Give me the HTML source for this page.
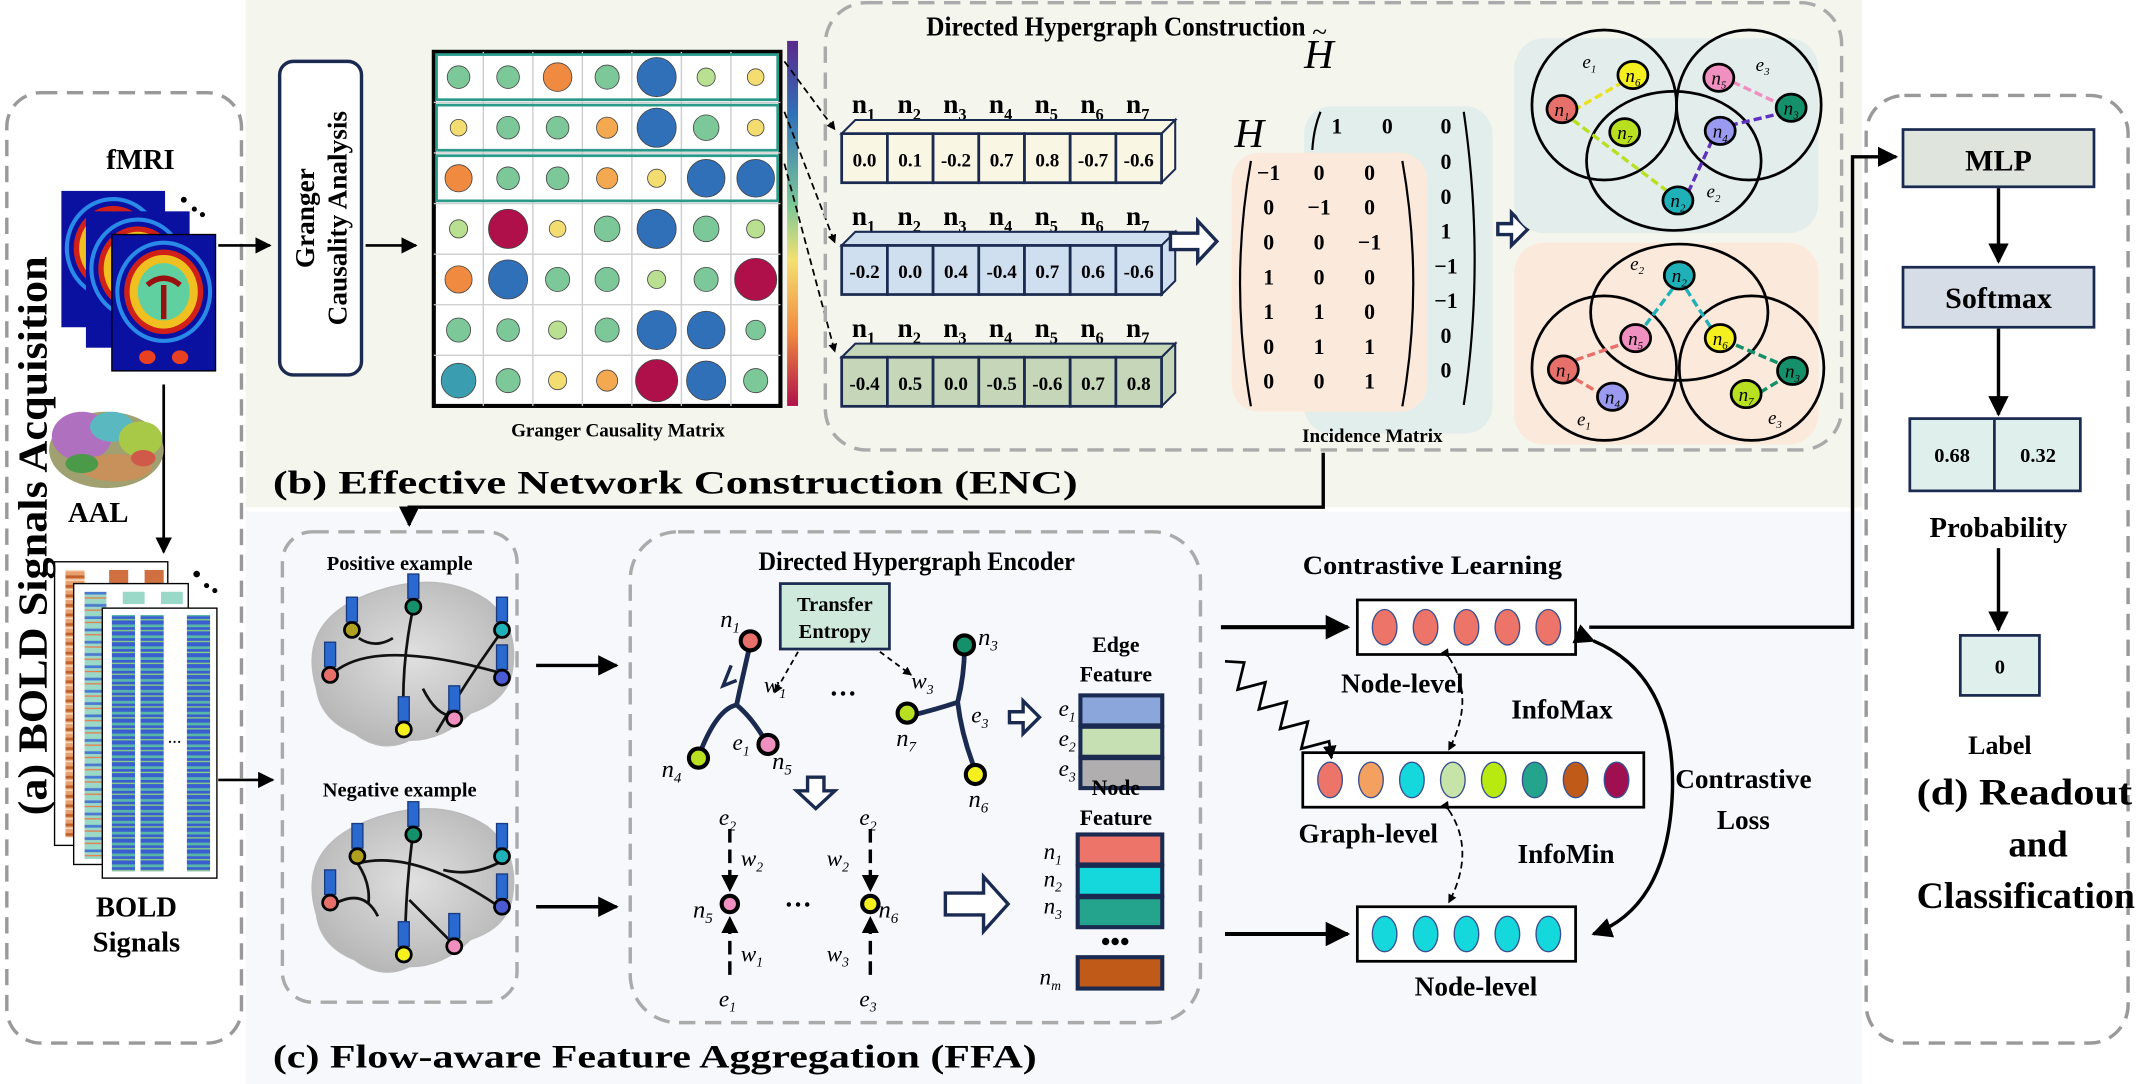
<!DOCTYPE html>
<html><head><meta charset="utf-8"><style>
html,body{margin:0;padding:0;background:#fff;}
#wrap{width:2139px;height:1084px;overflow:hidden;}
svg{display:block;}
svg text{font-family:"Liberation Serif","Times New Roman",serif;font-weight:bold;}
</style></head><body>
<div id="wrap">
<svg id="svg" width="2139" height="1084" viewBox="0 0 1568 795" preserveAspectRatio="none" xmlns="http://www.w3.org/2000/svg" font-family="Liberation Serif, Times New Roman, serif" font-weight="bold">
<defs>
<marker id="ah" viewBox="0 0 10 10" refX="9" refY="5" markerWidth="6" markerHeight="6" orient="auto"><path d="M0,0L10,5L0,10z" fill="#000"/></marker>
<marker id="ahs" viewBox="0 0 10 10" refX="9" refY="5" markerWidth="5" markerHeight="5" orient="auto"><path d="M0,0L10,5L0,10z" fill="#000"/></marker>
<pattern id="bold" width="14" height="8" patternUnits="userSpaceOnUse"><rect width="14" height="8" fill="#3a5ed0"/><rect y="2" width="14" height="2" fill="#58b8a8"/><rect y="6" width="14" height="1" fill="#8ad080"/></pattern>
<pattern id="boldc" width="14" height="9" patternUnits="userSpaceOnUse"><rect width="14" height="9" fill="#9ad8c8"/><rect y="2" width="14" height="2" fill="#4a7ad0"/><rect y="6" width="14" height="1" fill="#e08050"/></pattern>
<pattern id="bold2" width="12" height="7" patternUnits="userSpaceOnUse"><rect width="12" height="7" fill="#e8a070"/><rect y="2" width="12" height="2" fill="#c0602a"/><rect y="5" width="12" height="1" fill="#fbe0c8"/></pattern>
<linearGradient id="cbar" x1="0" y1="0" x2="0" y2="1"><stop offset="0" stop-color="#5a2a8a"/><stop offset="0.2" stop-color="#3070b8"/><stop offset="0.45" stop-color="#7cc898"/><stop offset="0.6" stop-color="#f4e070"/><stop offset="0.8" stop-color="#f08a40"/><stop offset="1" stop-color="#b0104a"/></linearGradient>
<radialGradient id="brg" cx="0.5" cy="0.45" r="0.6"><stop offset="0" stop-color="#e0e0e0"/><stop offset="1" stop-color="#b4b4b4"/></radialGradient>
</defs>

<rect x="180" y="0" width="1185" height="372" fill="#f4f5ec"/>
<rect x="180" y="375" width="1185" height="420" fill="#f7f8fc"/>

<!-- (a) -->
<g>
<rect x="5" y="68" width="172" height="697" rx="25" fill="none" stroke="#999" stroke-width="2.5" stroke-dasharray="12,7"/>
<text x="103" y="124" text-anchor="middle" font-size="21">fMRI</text>
<g id="fmri"></g>
<line x1="120" y1="282" x2="120" y2="405" stroke="#000" stroke-width="2" marker-end="url(#ah)"/>
<g>
<ellipse cx="78" cy="330" rx="42" ry="28" fill="#a0a070"/>
<ellipse cx="60" cy="320" rx="22" ry="18" fill="#b070c0"/><ellipse cx="82" cy="313" rx="16" ry="11" fill="#5ab8c0"/><ellipse cx="103" cy="322" rx="16" ry="13" fill="#a8c848"/><ellipse cx="85" cy="343" rx="26" ry="10" fill="#c8905a"/><ellipse cx="60" cy="340" rx="12" ry="7" fill="#4a9a4a"/><ellipse cx="105" cy="336" rx="9" ry="6" fill="#d05a4a"/>
</g>
<text x="72" y="383" text-anchor="middle" font-size="21">AAL</text>
<g>
<rect x="40" y="412" width="83" height="208" fill="#fff" stroke="#000"/>
<rect x="48" y="418" width="14" height="196" fill="url(#bold2)"/><rect x="80" y="418" width="14" height="10" fill="#d07040"/><rect x="106" y="418" width="14" height="10" fill="#d07040"/>
<rect x="54" y="428" width="84" height="206" fill="#fff" stroke="#000"/>
<rect x="62" y="434" width="16" height="196" fill="url(#boldc)"/><rect x="90" y="434" width="16" height="9" fill="#9ad8c8"/><rect x="118" y="434" width="16" height="9" fill="#9ad8c8"/>
<rect x="75" y="446" width="84" height="198" fill="#fff" stroke="#000"/>
<rect x="82" y="451" width="17" height="188" fill="url(#bold)"/><rect x="103" y="451" width="17" height="188" fill="url(#bold)"/><rect x="137" y="451" width="17" height="188" fill="url(#bold)"/>
<text x="128" y="545" font-size="10" text-anchor="middle">…</text>
<text x="141" y="427" font-size="18">•</text><text x="149" y="434" font-size="14">•</text><text x="155" y="438" font-size="14">•</text>
</g>
<text x="100" y="672" text-anchor="middle" font-size="21">BOLD</text>
<text x="100" y="698" text-anchor="middle" font-size="21">Signals</text>
<text transform="translate(34,393) rotate(-90)" text-anchor="middle" font-size="30" textLength="410" lengthAdjust="spacingAndGlyphs">(a) BOLD Signals Acquisition</text>
</g>
<line x1="160" y1="180" x2="198" y2="180" stroke="#000" stroke-width="2" marker-end="url(#ah)"/>
<line x1="160" y1="572" x2="200" y2="572" stroke="#000" stroke-width="2" marker-end="url(#ah)"/>

<!-- (b) -->
<rect x="205" y="45" width="60" height="230" rx="10" fill="#fff" stroke="#1a2a50" stroke-width="2.5"/>
<text transform="translate(230,160) rotate(-90)" text-anchor="middle" font-size="20">Granger</text>
<text transform="translate(254,160) rotate(-90)" text-anchor="middle" font-size="20">Causality Analysis</text>
<line x1="268" y1="180" x2="305" y2="180" stroke="#000" stroke-width="2" marker-end="url(#ah)"/>

<g id="matrix"></g>
<text x="453" y="320" text-anchor="middle" font-size="14">Granger Causality  Matrix</text>

<rect x="605" y="2" width="745" height="328" rx="30" fill="none" stroke="#aaa" stroke-width="2.5" stroke-dasharray="12,7"/>
<text x="818" y="26" text-anchor="middle" font-size="20" textLength="278" lengthAdjust="spacingAndGlyphs">Directed Hypergraph Construction</text>
<g id="cubes"></g>
<path d="M858,171 h20 v-9 l14,15 l-14,15 v-9 h-20z" fill="#fff" stroke="#1a2a50" stroke-width="2.5"/>

<g>
<rect x="956" y="78" width="138" height="240" rx="20" fill="#e2eeec"/>
<rect x="903" y="112" width="143" height="190" rx="20" fill="#fbe9dc"/>
<text x="956" y="50" font-size="30" font-style="italic" style="font-weight:normal">H</text>
<text x="962" y="30" font-size="20" style="font-weight:normal">~</text>
<text x="905" y="108" font-size="30" font-style="italic" style="font-weight:normal">H</text>
<g id="incid" font-size="16" text-anchor="middle" style="font-weight:normal"></g>
</g>
<text x="1006" y="324" text-anchor="middle" font-size="14">Incidence Matrix</text>
<path d="M1098,164 h10 v-8 l12,12 l-12,12 v-8 h-10z" fill="#fff" stroke="#1a2a50" stroke-width="2.5"/>

<g id="hg">
<rect x="1110" y="28" width="223" height="143" rx="22" fill="#e3eeec"/>
<rect x="1110" y="178" width="223" height="148" rx="22" fill="#fbe9dc"/>
</g>
<text x="200" y="362" font-size="24" textLength="590" lengthAdjust="spacingAndGlyphs">(b) Effective Network Construction (ENC)</text>
<path d="M970,332 V372 H300 V385" fill="none" stroke="#000" stroke-width="2.5" marker-end="url(#ah)"/>

<!-- (c) -->
<rect x="207" y="390" width="172" height="345" rx="22" fill="none" stroke="#aaa" stroke-width="2.5" stroke-dasharray="12,7"/>
<text x="293" y="418" text-anchor="middle" font-size="15">Positive example</text>
<text x="293" y="584" text-anchor="middle" font-size="15">Negative example</text>
<g id="brains"></g>
<line x1="393" y1="488" x2="452" y2="488" stroke="#000" stroke-width="2.5" marker-end="url(#ah)"/>
<line x1="393" y1="665" x2="452" y2="665" stroke="#000" stroke-width="2.5" marker-end="url(#ah)"/>

<rect x="462" y="390" width="418" height="360" rx="35" fill="none" stroke="#aaa" stroke-width="2.5" stroke-dasharray="12,7"/>
<text x="672" y="418" text-anchor="middle" font-size="19" textLength="232" lengthAdjust="spacingAndGlyphs">Directed Hypergraph Encoder</text>
<g id="enc"></g>

<text x="1050" y="421" text-anchor="middle" font-size="19" textLength="190" lengthAdjust="spacingAndGlyphs">Contrastive Learning</text>
<g id="cl"></g>
<text x="200" y="783" font-size="24" textLength="560" lengthAdjust="spacingAndGlyphs">(c) Flow-aware Feature Aggregation (FFA)</text>

<!-- (d) -->
<rect x="1368" y="70" width="192" height="695" rx="28" fill="none" stroke="#999" stroke-width="2.5" stroke-dasharray="12,7"/>
<rect x="1395" y="95" width="140" height="42" fill="#dfe4dc" stroke="#1a2a50" stroke-width="2"/>
<text x="1465" y="125" text-anchor="middle" font-size="22">MLP</text>
<line x1="1465" y1="138" x2="1465" y2="192" stroke="#000" stroke-width="2.5" marker-end="url(#ah)"/>
<rect x="1395" y="196" width="140" height="44" fill="#d6dde6" stroke="#1a2a50" stroke-width="2"/>
<text x="1465" y="226" text-anchor="middle" font-size="22">Softmax</text>
<line x1="1465" y1="241" x2="1465" y2="304" stroke="#000" stroke-width="2.5" marker-end="url(#ah)"/>
<rect x="1400" y="307" width="125" height="53" fill="#dff0ec" stroke="#1a2a50" stroke-width="2"/>
<line x1="1462" y1="307" x2="1462" y2="360" stroke="#1a2a50" stroke-width="2"/>
<text x="1431" y="339" text-anchor="middle" font-size="15">0.68</text>
<text x="1494" y="339" text-anchor="middle" font-size="15">0.32</text>
<text x="1465" y="394" text-anchor="middle" font-size="21">Probability</text>
<line x1="1465" y1="402" x2="1465" y2="462" stroke="#000" stroke-width="2.5" marker-end="url(#ah)"/>
<rect x="1437" y="466" width="58" height="44" fill="#dff0ec" stroke="#1a2a50" stroke-width="2"/>
<text x="1466" y="494" text-anchor="middle" font-size="15">0</text>
<text x="1466" y="553" text-anchor="middle" font-size="19">Label</text>
<text x="1484" y="590" text-anchor="middle" font-size="27" textLength="158" lengthAdjust="spacingAndGlyphs">(d) Readout</text>
<text x="1494" y="628" text-anchor="middle" font-size="27">and</text>
<text x="1485" y="666" text-anchor="middle" font-size="27" textLength="160" lengthAdjust="spacingAndGlyphs">Classification</text>
<path d="M1165,460 H1358 V115 H1390" fill="none" stroke="#000" stroke-width="2.5" marker-end="url(#ah)"/>
</svg>
</div>
<script>
const NS="http://www.w3.org/2000/svg";
function mk(tag,attrs,parent,txt){const e=document.createElementNS(NS,tag);for(const k in attrs)e.setAttribute(k,attrs[k]);if(txt!==undefined)e.textContent=txt;parent.appendChild(e);return e;}
const F=document.getElementById('fmri');
[[45,140],[63,155],[82,172]].forEach(([x,y],k)=>{
 mk('rect',{x:x,y:y,width:76,height:100,fill:'#0a10a0',stroke:k==2?'#000':'none'},F);
 const cx=x+38,cy=y+42;
 mk('ellipse',{cx:cx,cy:cy,rx:34,ry:36,fill:'none',stroke:'#2a8ae8','stroke-width':3},F);
 mk('ellipse',{cx:cx,cy:cy,rx:29,ry:31,fill:'#d02018'},F);
 mk('ellipse',{cx:cx,cy:cy,rx:25,ry:27,fill:'#f0c020'},F);
 mk('ellipse',{cx:cx,cy:cy,rx:19,ry:21,fill:'#60d0a0'},F);
 if(k==2){mk('path',{d:`M${cx-12},${cy-5} q12,-10 24,0 M${cx},${cy-5} v25`,fill:'none',stroke:'#9a1010','stroke-width':4},F);
  mk('ellipse',{cx:cx-12,cy:y+90,rx:6,ry:5,fill:'#e84020'},F);mk('ellipse',{cx:cx+12,cy:y+90,rx:6,ry:5,fill:'#e84020'},F);}
});
mk('text',{x:132,y:152,'font-size':16},F,'•');mk('text',{x:140,y:158,'font-size':14},F,'•');mk('text',{x:146,y:162,'font-size':14},F,'•');
// Granger matrix values (-1..1): sign -> colour, magnitude -> size
const gcRow1=[0.3,0.3,-0.5,0.35,0.85,0.15,-0.1];
const gcRow2=[-0.1,0.3,0.3,-0.25,0.85,0.4,-0.1];
const gcRow3=[-0.45,0.3,0.3,-0.25,-0.15,0.8,0.8];
const gcRow4=[0.15,-0.85,-0.1,0.4,0.85,0.4,0.15];
const gcRow5=[-0.45,0.85,0.35,0.35,0.15,0.35,-0.95];
const gcRow6=[0.35,0.3,0.15,0.35,0.85,0.8,0.2];
const gcRow7=[0.7,0.35,-0.15,-0.25,-0.95,0.85,0.35];
const gcRows=[gcRow1,gcRow2,gcRow3,gcRow4,gcRow5,gcRow6,gcRow7];
const M=document.getElementById('matrix');
const mx0=318,my0=38,cw=36.3,ch=37.1;
function gcColor(v){if(v<=-0.8)return'#b0104a';if(v<=-0.4)return'#f08a40';if(v<=-0.2)return'#f4a850';if(v<0)return'#f4dd70';if(v<0.2)return'#b8e090';if(v<0.5)return'#7cc898';if(v<0.75)return'#3a9eb0';return'#3070b8';}
function colX(i){return mx0+cw*(i+0.5);} function rowY(j){return my0+ch*(j+0.5);}
mk('rect',{x:mx0,y:my0,width:cw*7,height:ch*7,fill:'#fff',stroke:'#000','stroke-width':3},M);
for(let i=1;i<7;i++){mk('line',{x1:mx0+cw*i,y1:my0,x2:mx0+cw*i,y2:my0+ch*7,stroke:'#ccc'},M);mk('line',{x1:mx0,y1:my0+ch*i,x2:mx0+cw*7,y2:my0+ch*i,stroke:'#ccc'},M);}
gcRows.forEach((row,j)=>row.forEach((v,i)=>{const c=mk('circle',{cx:colX(i),cy:rowY(j),r:5+11*Math.abs(v),fill:gcColor(v),stroke:'#444','stroke-width':0.6},M);

}));
mk('rect',{x:577,y:my0-8,width:8,height:ch*7+8,fill:'url(#cbar)'},M);
[0,1,2].forEach(j=>mk('rect',{x:mx0+2,y:my0+ch*j+2,width:cw*7-4,height:ch-4,fill:'none',stroke:'#2a9a8a','stroke-width':2},M));
[[575,45,612,95],[575,82,612,178],[575,120,612,258]].forEach(p=>mk('line',{x1:p[0],y1:p[1],x2:p[2],y2:p[3],stroke:'#000','stroke-width':1.3,'stroke-dasharray':'5,3','marker-end':'url(#ahs)'},M));
// cube rows
const cubeRow1=['0.0','0.1','-0.2','0.7','0.8','-0.7','-0.6'];
const cubeRow2=['-0.2','0.0','0.4','-0.4','0.7','0.6','-0.6'];
const cubeRow3=['-0.4','0.5','0.0','-0.5','-0.6','0.7','0.8'];
const cubeRows=[cubeRow1,cubeRow2,cubeRow3];
const cubeFill=['#faf6e4','#cfdff0','#c6d6b8'];
const C=document.getElementById('cubes');
cubeRows.forEach((row,r)=>{const y=98+r*82,x0=617,w=33.5;
 for(let i=0;i<7;i++){const t=mk('text',{x:x0+14+i*w+2,y:y-15,'text-anchor':'middle','font-size':20},C);t.innerHTML='n<tspan font-size="12" dy="5">'+(i+1)+'</tspan>';}
 mk('path',{d:`M${x0},${y} l10,-10 h${7*w} l-10,10z`,fill:cubeFill[r],stroke:'#1a2a50','stroke-width':1.5},C);
 mk('path',{d:`M${x0+7*w},${y} l10,-10 v36 l-10,10z`,fill:cubeFill[r],stroke:'#1a2a50','stroke-width':1.5},C);
 row.forEach((v,i)=>{mk('rect',{x:x0+i*w,y:y,width:w,height:36,fill:cubeFill[r],stroke:'#1a2a50','stroke-width':2},C);
  const t=mk('text',{x:x0+i*w+w/2,y:y+24,'text-anchor':'middle','font-size':14},C,v);
  
  });
});
// incidence
const I=document.getElementById('incid');
const hRows=[['−1','0','0'],['0','−1','0'],['0','0','−1'],['1','0','0'],['1','1','0'],['0','1','1'],['0','0','1']];
hRows.forEach((r,j)=>r.forEach((v,i)=>mk('text',{x:930+i*37,y:132+j*25.5},I,v)));
const htCol=['0','0','1','−1','−1','0','0'];
mk('text',{x:980,y:98},I,'1');mk('text',{x:1017,y:98},I,'0');
mk('text',{x:1060,y:98},I,'0');
htCol.forEach((v,j)=>mk('text',{x:1060,y:124+j*25.5},I,v));
mk('path',{d:'M917,118 q-16,90 0,180',fill:'none',stroke:'#000','stroke-width':1.6},I);
mk('path',{d:'M1028,118 q16,90 0,180',fill:'none',stroke:'#000','stroke-width':1.6},I);
mk('path',{d:'M968,82 q-5,12 -6,28',fill:'none',stroke:'#000','stroke-width':1.6},I);
mk('path',{d:'M1073,82 q16,110 0,215',fill:'none',stroke:'#000','stroke-width':1.6},I);
// hypergraph circles
const H=document.getElementById('hg');
const nodeCol={1:'#e8706a',2:'#20b0b8',3:'#14906a',4:'#9a9af0',5:'#f090c0',6:'#f4f020',7:'#b8e020'};
function node(x,y,n){mk('ellipse',{cx:x,cy:y,rx:11,ry:10,fill:nodeCol[n],stroke:'#000','stroke-width':2},H);const t=mk('text',{x:x,y:y+5,'text-anchor':'middle','font-size':14,'font-style':'italic',style:'font-weight:normal'},H);t.innerHTML='n<tspan font-size="8" dy="3">'+n+'</tspan>';}
function lab(x,y,s){const t=mk('text',{x:x,y:y,'font-size':14,'font-style':'italic',style:'font-weight:normal'},H);t.innerHTML='e<tspan font-size="8" dy="3">'+s+'</tspan>';}
function da(x1,y1,x2,y2,c){mk('line',{x1,y1,x2,y2,stroke:c,'stroke-width':2.5,'stroke-dasharray':'6,3'},H);}
[[1176,77,53,55],[1282,77,53,55],[1227,118,64,51]].forEach(c=>mk('ellipse',{cx:c[0],cy:c[1],rx:c[2],ry:c[3],fill:'none',stroke:'#000','stroke-width':2},H));
da(1190,60,1155,80,'#e8e020');da(1153,88,1222,140,'#b8e020');da(1270,60,1302,75,'#f090c0');da(1268,92,1302,84,'#6030c0');da(1255,103,1238,140,'#6030c0');
node(1145,80,1);node(1197,55,6);node(1191,97,7);node(1313,79,3);node(1260,57,5);node(1261,96,4);node(1230,147,2);
lab(1160,50,1);lab(1287,52,3);lab(1251,145,2);
[[1231,229,65,50],[1176,270,53,53],[1284,270,53,53]].forEach(c=>mk('ellipse',{cx:c[0],cy:c[1],rx:c[2],ry:c[3],fill:'none',stroke:'#000','stroke-width':2},H));
da(1226,212,1205,240,'#20b0b8');da(1236,212,1254,240,'#20b0b8');da(1155,264,1190,252,'#e8706a');da(1155,278,1172,288,'#e8706a');da(1303,266,1270,252,'#14906a');da(1303,280,1290,288,'#14906a');
node(1231,202,2);node(1199,248,5);node(1261,248,6);node(1146,271,1);node(1182,291,4);node(1314,272,3);node(1280,289,7);
lab(1195,198,2);lab(1156,312,1);lab(1296,311,3);
// brains
const B=document.getElementById('brains');
function brain(cy,pts,edges){const g=mk('g',{},B);
 mk('path',{d:`M232,${cy+15} q-15,-50 40,-70 q50,-18 85,5 q25,20 18,55 q-5,20 -30,28 q-20,20 -45,20 q-20,10 -40,-5 q-25,-10 -28,-33z`,fill:'url(#brg)',stroke:'#bbb'},g);
 edges.forEach(d=>mk('path',{d:d,fill:'none',stroke:'#111','stroke-width':2},g));
 pts.forEach(p=>{mk('rect',{x:p[0]-4,y:p[1]-24,width:8,height:18,fill:'#2a6ad0',stroke:'#1a3a80'},g);mk('circle',{cx:p[0],cy:p[1],r:5.5,fill:p[2],stroke:'#000','stroke-width':2},g);});}
brain(490,[[258,462,'#b0a020'],[303,445,'#14906a'],[368,462,'#20b0b8'],[242,495,'#e8706a'],[368,497,'#4a5ad0'],[296,535,'#f4f020'],[333,527,'#f090c0']],
 ['M263,468 q12,8 25,0','M302,450 q-8,40 -6,80','M365,467 q-25,35 -45,70','M245,493 q30,-25 120,0','M310,505 q10,20 22,20']);
brain(656,[[262,628,'#b0a020'],[303,612,'#14906a'],[368,628,'#20b0b8'],[242,662,'#e8706a'],[368,665,'#4a5ad0'],[296,700,'#f4f020'],[333,694,'#f090c0']],
 ['M263,633 q40,-10 100,30','M302,617 q-5,40 -5,78','M365,633 q-20,10 -40,5','M247,662 q20,-10 30,10','M262,633 q10,15 8,30','M300,660 q20,20 30,30']);
// encoder
const E=document.getElementById('enc');
function en(x,y,c,n,dx,dy){mk('circle',{cx:x,cy:y,r:7,fill:c,stroke:'#000','stroke-width':3},E);const t=mk('text',{x:x+dx,y:y+dy,'font-size':18,'font-style':'italic',style:'font-weight:normal'},E);t.innerHTML='n<tspan font-size="11" dy="4">'+n+'</tspan>';}
function it(x,y,b,s){const t=mk('text',{x,y,'font-size':17,'font-style':'italic',style:'font-weight:normal'},E);t.innerHTML=b+'<tspan font-size="10" dy="4">'+s+'</tspan>';}
mk('path',{d:'M550,472 q-8,35 -10,45 q-15,3 -28,38 M540,517 q12,10 22,28',fill:'none',stroke:'#1a2a50','stroke-width':3.5},E);
mk('path',{d:'M536,488 l-6,15 l10,-4',fill:'none',stroke:'#1a2a50','stroke-width':2.5},E);
mk('path',{d:'M707,475 q0,20 -5,40 q-15,5 -35,10 M702,515 q3,25 13,50',fill:'none',stroke:'#1a2a50','stroke-width':3.5},E);
en(550,470,'#e8706a',1,-22,-10);en(512,556,'#b8e020',4,-27,14);en(563,546,'#f090c0',5,3,18);
en(707,473,'#14906a',3,10,0);en(665,523,'#b8e020',7,-8,24);en(715,568,'#f4f020',6,-5,24);
it(560,508,'w',1);it(537,550,'e',1);it(668,505,'w',3);it(712,530,'e',3);
mk('text',{x:608,y:510,'font-size':20},E,'…');
mk('rect',{x:572,y:428,width:80,height:48,fill:'#cfeadc',stroke:'#1a2a50','stroke-width':2},E);
mk('text',{x:612,y:448,'text-anchor':'middle','font-size':15},E,'Transfer');
mk('text',{x:612,y:468,'text-anchor':'middle','font-size':15},E,'Entropy');
mk('line',{x1:585,y1:478,x2:568,y2:508,stroke:'#000','stroke-width':1.3,'stroke-dasharray':'4,3','marker-end':'url(#ahs)'},E);
mk('line',{x1:645,y1:478,x2:668,y2:495,stroke:'#000','stroke-width':1.3,'stroke-dasharray':'4,3','marker-end':'url(#ahs)'},E);
mk('path',{d:'M740,522 h10 v-8 l12,12 l-12,12 v-8 h-10z',fill:'#fff',stroke:'#1a2a50','stroke-width':2.5},E);
mk('path',{d:'M592,570 h12 v10 h8 l-14,13 l-14,-13 h8z',fill:'#fff',stroke:'#1a2a50','stroke-width':2.5},E);
[[535,663,'#f090c0',5],[638,663,'#f4f020',6]].forEach(([x,y,c,n],k)=>{
 mk('line',{x1:x,y1:y-55,x2:x,y2:y-10,stroke:'#000','stroke-width':2.5,'stroke-dasharray':'10,5','marker-end':'url(#ahs)'},E);
 mk('line',{x1:x,y1:y+52,x2:x,y2:y+10,stroke:'#000','stroke-width':2.5,'stroke-dasharray':'10,5','marker-end':'url(#ahs)'},E);
 mk('circle',{cx:x,cy:y,r:6,fill:c,stroke:'#000','stroke-width':3},E);
 const t=mk('text',{x:k?x+6:x-27,y:y+10,'font-size':18,'font-style':'italic',style:'font-weight:normal'},E);t.innerHTML='n<tspan font-size="11" dy="4">'+n+'</tspan>';
 it(x-8,y-58,'e',2);it(x+(k?-32:8),y-28,'w',2);it(x+(k?-32:8),y+42,'w',k?3:1);it(x-8,y+75,'e',k?3:1);
});
mk('text',{x:575,y:665,'font-size':20},E,'…');
mk('path',{d:'M693,655 h28 v-12 l18,20 l-18,20 v-12 h-28z',fill:'#fff',stroke:'#1a2a50','stroke-width':2.5},E);
mk('text',{x:818,y:478,'text-anchor':'middle','font-size':16},E,'Edge');
mk('text',{x:818,y:500,'text-anchor':'middle','font-size':16},E,'Feature');
['#8aa6da','#c6e0b4','#b0aeae'].forEach((c,k)=>{mk('rect',{x:792,y:510+k*23,width:60,height:22,fill:c,stroke:'#1a2a50','stroke-width':3},E);it(776,525+k*22,'e',k+1);});
mk('text',{x:818,y:583,'text-anchor':'middle','font-size':16},E,'Node');
mk('text',{x:818,y:605,'text-anchor':'middle','font-size':16},E,'Feature');
['#ec7468','#14d8dc','#24a48c'].forEach((c,k)=>{mk('rect',{x:790,y:612+k*23,width:62,height:22,fill:c,stroke:'#1a2a50','stroke-width':3},E);it(765,630+k*20,'n',k+1);});
mk('text',{x:807,y:697,'font-size':20},E,'•••');
mk('rect',{x:790,y:702,width:62,height:23,fill:'#c05a18',stroke:'#1a2a50','stroke-width':3},E);it(762,722,'n','m');
// contrastive
const L=document.getElementById('cl');
const nodeTopCols=['#ec7468','#ec7468','#ec7468','#ec7468','#ec7468'];
const graphCols=['#ec7468','#f4a060','#14d8dc','#c6e4a8','#b8ea10','#24a48c','#c05a18','#a01050'];
const nodeBotCols=['#14d8dc','#14d8dc','#14d8dc','#14d8dc','#14d8dc'];
function row(x,y,cols,name){const g=mk('g',{},L);
 mk('rect',{x:x,y:y,width:cols.length*30+10,height:40,fill:'#fff',stroke:'#000','stroke-width':2},g);
 cols.forEach((c,k)=>mk('ellipse',{cx:x+20+k*30,cy:y+20,rx:9,ry:13,fill:c,stroke:'#3a5090','stroke-width':1},g));}
row(995,440,nodeTopCols,'node-level-top-row');row(955,552,graphCols,'graph-level-row');row(995,665,nodeBotCols,'node-level-bottom-row');
mk('line',{x1:895,y1:460,x2:988,y2:460,stroke:'#000','stroke-width':3,'marker-end':'url(#ah)'},L);
mk('line',{x1:898,y1:685,x2:988,y2:685,stroke:'#000','stroke-width':3,'marker-end':'url(#ah)'},L);
let wd='M898,485';for(let k=1;k<=9;k++){const t=k/9;const bx=898+70*t,by=485+65*t;wd+=` L${bx+(k%2?9:-9)*0.7},${by+(k%2?-9:9)*0.7}`;}wd+=' L976,556';
mk('path',{d:wd,fill:'none',stroke:'#000','stroke-width':2,'marker-end':'url(#ahs)'},L);
mk('path',{d:'M1062,482 q20,30 0,68',fill:'none',stroke:'#000','stroke-width':1.3,'stroke-dasharray':'5,3','marker-start':'url(#ahs)','marker-end':'url(#ahs)'},L);
mk('path',{d:'M1062,594 q20,30 0,68',fill:'none',stroke:'#000','stroke-width':1.3,'stroke-dasharray':'5,3','marker-start':'url(#ahs)','marker-end':'url(#ahs)'},L);
mk('path',{d:'M1168,470 q60,25 58,110 q-3,85 -58,105',fill:'none',stroke:'#000','stroke-width':2.5,'marker-start':'url(#ah)','marker-end':'url(#ah)'},L);
mk('text',{x:1028,y:508,'text-anchor':'middle','font-size':20},L,'Node-level');
mk('text',{x:1145,y:527,'text-anchor':'middle','font-size':20},L,'InfoMax');
mk('text',{x:1003,y:618,'text-anchor':'middle','font-size':20},L,'Graph-level');
mk('text',{x:1148,y:633,'text-anchor':'middle','font-size':20},L,'InfoMin');
mk('text',{x:1082,y:730,'text-anchor':'middle','font-size':20},L,'Node-level');
mk('text',{x:1278,y:578,'text-anchor':'middle','font-size':20},L,'Contrastive');
mk('text',{x:1278,y:608,'text-anchor':'middle','font-size':20},L,'Loss');
</script>
</body></html>
